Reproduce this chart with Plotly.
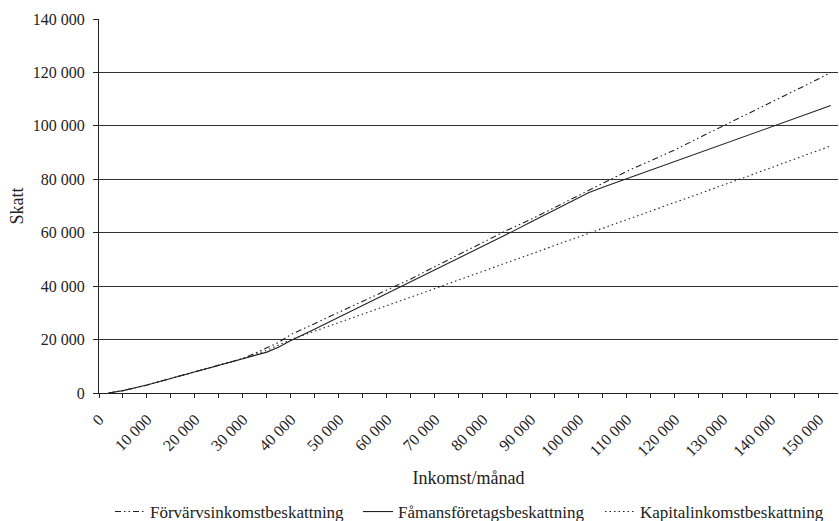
import plotly.graph_objects as go

# Income per month (kr)
inkomst = [2000, 5000, 10000, 15000, 20000, 25000, 30000, 35000, 37500, 40000,
           45000, 50000, 55000, 60000, 65000, 70000, 75000, 80000, 85000, 90000,
           95000, 100000, 102000, 105000, 110000, 115000, 120000, 125000, 130000,
           135000, 140000, 145000, 150000, 152500]

forvarv = [0, 900, 3000, 5500, 8000, 10500, 12900, 16900, 19000, 21900,
           26000, 30100, 34200, 38300, 42700, 47300, 51800, 56400, 60900, 65000,
           69500, 74000, 75800, 78600, 83000, 87000, 91000, 95500, 100000,
           104400, 108800, 113200, 117600, 120000]

famans = [0, 900, 3000, 5500, 8000, 10500, 12900, 15300, 17200, 19650,
          24000, 28400, 32700, 37100, 41500, 45900, 50300, 54800, 59400, 64000,
          68600, 73200, 75000, 77000, 80200, 83400, 86600, 89800, 93000,
          96200, 99400, 102600, 105800, 107600]

kapital = [0, 900, 3000, 5500, 8000, 10500, 12900, 16000, 18000, 20000,
           23200, 26300, 29500, 32700, 35900, 39100, 42300, 45500, 48800, 52000,
           55300, 58500, 59800, 61700, 64900, 68100, 71400, 74600, 77800,
           81000, 84300, 87500, 90800, 92500]

series_names = ["Förvärvsinkomstbeskattning", "Fåmansföretagsbeskattning", "Kapitalinkomstbeskattning"]

x_tickvals = list(range(0, 150001, 10000))
x_ticktext = ["0"] + [f"{v // 1000} 000" for v in x_tickvals[1:]]
y_tickvals = list(range(0, 140001, 20000))
y_ticktext = ["0"] + [f"{v // 1000} 000" for v in y_tickvals[1:]]

FONT = "Liberation Serif"
INK = "#222222"

fig = go.Figure()
styles = [
    dict(dash="6px,3px,1.5px,3px,1.5px,3px", legend="legend"),
    dict(dash="solid", legend="legend2"),
    dict(dash="1.5px,3px", legend="legend3"),
]
for name, ys, st in zip(series_names, [forvarv, famans, kapital], styles):
    fig.add_trace(go.Scatter(
        x=inkomst, y=ys, mode="lines", name=name,
        line=dict(color=INK, width=1.1, dash=st["dash"]),
        legend=st["legend"], hoverinfo="skip",
    ))

W, H = 839, 521
L, R, T, B = 99, 1, 19, 128
pw = W - L - R
ph = H - T - B

def px_to_paper_x(px):
    return (px - L) / pw

def py_to_paper_y(py):
    return (H - B - py) / ph

leg_common = dict(orientation="h", yanchor="middle", xanchor="left",
                  font=dict(family=FONT, size=17, color=INK),
                  bgcolor="rgba(0,0,0,0)", borderwidth=0, tracegroupgap=0,
                  itemwidth=30)

fig.update_layout(
    width=W, height=H,
    margin=dict(l=L, r=R, t=T, b=B, pad=0, autoexpand=False),
    paper_bgcolor="white", plot_bgcolor="white",
    font=dict(family=FONT, size=16, color=INK),
    showlegend=True,
    legend=dict(x=px_to_paper_x(110), y=py_to_paper_y(512), **leg_common),
    legend2=dict(x=px_to_paper_x(358), y=py_to_paper_y(512), **leg_common),
    legend3=dict(x=px_to_paper_x(600), y=py_to_paper_y(512), **leg_common),
    xaxis=dict(
        range=[0, 154000], tickvals=x_tickvals, ticktext=x_ticktext,
        tickangle=-45, ticks="outside", ticklen=4, tickcolor=INK, ticklabelstandoff=6,
        showline=True, linecolor=INK, linewidth=1, showgrid=False, zeroline=False,
        tickfont=dict(family=FONT, size=16, color=INK), automargin=False,
        minor=dict(dtick=5000, tick0=0, ticks="outside", ticklen=4, tickcolor=INK, showgrid=False),
        title=dict(text="Inkomst/månad", font=dict(family=FONT, size=18, color=INK), standoff=12),
        fixedrange=True,
    ),
    yaxis=dict(
        range=[0, 140000], tickvals=y_tickvals, ticktext=y_ticktext,
        ticks="outside", ticklen=5, tickcolor=INK, ticklabelstandoff=5,
        showline=True, linecolor=INK, linewidth=1,
        showgrid=True, gridcolor="#333333", gridwidth=1, zeroline=False,
        tickfont=dict(family=FONT, size=16, color=INK), automargin=False,
        title=dict(text="Skatt", font=dict(family=FONT, size=18, color=INK), standoff=4),
        fixedrange=True,
    ),
)

fig.write_html("out.html", config={"displayModeBar": False},
               post_script="document.body.style.margin='0px';")
